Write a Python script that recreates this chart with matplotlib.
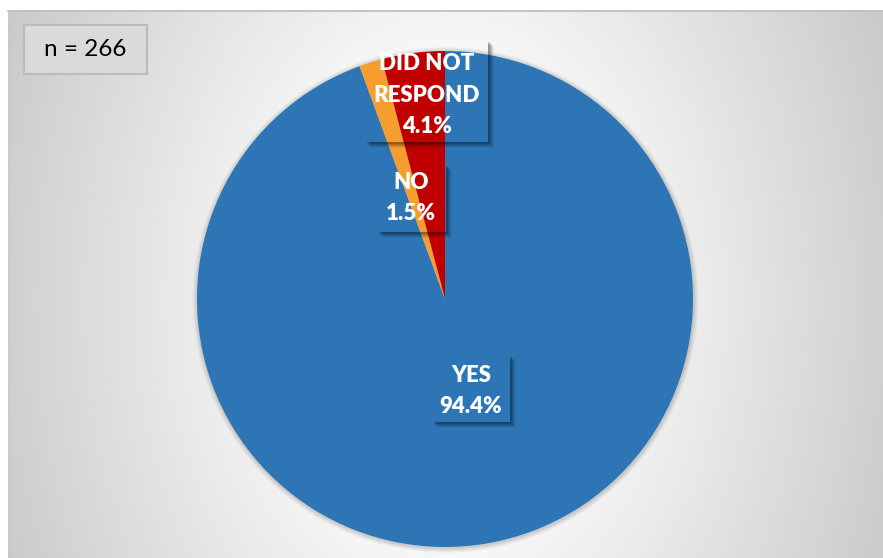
import numpy as np
import matplotlib
matplotlib.use("Agg")
import matplotlib.pyplot as plt
from matplotlib.patches import Polygon, Rectangle, Circle

# Survey responses
categories = ["YES", "NO", "DID NOT\nRESPOND"]
shares = [94.4, 1.5, 4.1]
colors = ["#2E75B6", "#F59D2F", "#C00000"]
sample_label = "n = 266"

W, H = 883, 558
fig = plt.figure(figsize=(W / 100, H / 100), dpi=100)
fig.patch.set_facecolor("white")

# ---- background panel with radial gradient ----
bg = fig.add_axes([0, 0, 1, 1], zorder=0)
bg.set_xlim(0, W)
bg.set_ylim(H, 0)
bg.axis("off")
px0, py0 = 8, 10
xs = np.linspace(px0, W, 440)
ys = np.linspace(py0, H, 280)
xx, yy = np.meshgrid(xs, ys)
cx, cy = 445, 300
d = np.sqrt((xx - cx) ** 2 + (0.7 * (yy - cy)) ** 2)
v = np.clip(1.07 - 0.000577 * d, 0, 0.985)
img = np.dstack([v, v, v])
bg.imshow(img, extent=[px0, W, H, py0], aspect="auto", interpolation="bilinear")
bg.plot([px0, W], [py0 + 0.5, py0 + 0.5], color="#bdbdbd", lw=1.2)
bg.plot([px0 + 0.5, px0 + 0.5], [py0, H], color="#c8c8c8", lw=1.0)

# soft shadow around the pie
pcx, pcy, r = 445, 299, 248
for extra, a in [(5, 0.025), (4, 0.03), (3, 0.035), (2, 0.04), (1, 0.05)]:
    bg.add_patch(Circle((pcx + 0.5, pcy + 1), r + extra, facecolor="black",
                        edgecolor="none", alpha=a))
bg.set_xlim(0, W)
bg.set_ylim(H, 0)

# ---- pie ----
pie_ax = fig.add_axes([(pcx - r) / W, (H - pcy - r) / H, 2 * r / W, 2 * r / H], zorder=1)
pie_ax.pie(shares, colors=colors, startangle=90, counterclock=False,
           wedgeprops=dict(linewidth=0))
pie_ax.set_xlim(-1, 1)
pie_ax.set_ylim(-1, 1)
pie_ax.set_aspect("equal")
pie_ax.axis("off")

# ---- overlay for labels ----
ov = fig.add_axes([0, 0, 1, 1], zorder=2)
ov.set_xlim(0, W)
ov.set_ylim(H, 0)
ov.axis("off")
ov.patch.set_alpha(0)


def shadow(ax, x0, y0, x1, y1):
    """Soft drop shadow below and to the right of a transparent box."""
    for off, a in [(6, 0.05), (5, 0.07), (4, 0.09), (3, 0.12), (2, 0.14)]:
        pts = [(x1, y0 + off), (x1 + off, y0 + off), (x1 + off, y1 + off),
               (x0 + off, y1 + off), (x0 + off, y1), (x1, y1)]
        ax.add_patch(Polygon(pts, closed=True, facecolor="black", edgecolor="none",
                             alpha=a))


# label box extents and text centres (pixels)
label_boxes = {
    "YES": ((432, 355, 510, 422), (471, 391)),
    "NO": ((377, 164, 446, 232), (411, 198)),
    "DID NOT\nRESPOND": ((365, 40, 488, 142), (427, 95)),
}
for cat, share in zip(categories, shares):
    (x0, y0, x1, y1), (tx, ty) = label_boxes[cat]
    shadow(ov, x0, y0, x1, y1)
    ov.text(tx, ty, f"{cat}\n{share:.1f}%",
            ha="center", va="center", color="white", fontsize=16,
            fontweight="heavy", family="Lato", linespacing=1.6)

# ---- sample size box ----
ov.add_patch(Rectangle((24, 25), 123, 49, facecolor="#dadada", edgecolor="#bcbcbc",
                       lw=1.5))
ov.text(85.5, 50, sample_label, ha="center", va="center", fontsize=17.5,
        family="Lato", color="black")

fig.savefig("out.png", dpi=100, facecolor="white")
